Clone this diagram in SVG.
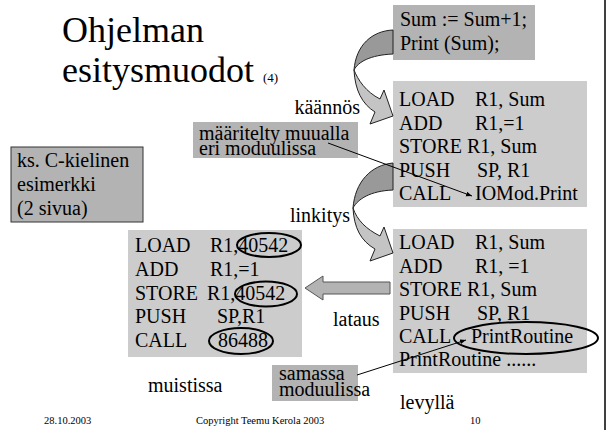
<svg xmlns="http://www.w3.org/2000/svg" width="607" height="430" viewBox="0 0 607 430" font-family="'Liberation Serif', 'DejaVu Serif', serif">
<style>
text{font-family:'Liberation Serif','DejaVu Serif',serif;fill:#000}
.c{font-size:20px}
.t{font-size:36px}
.f{font-size:10.5px}
.lg{fill:#cccccc}
.dg{fill:#b3b3b3}
.el{fill:none;stroke:#000;stroke-width:2}
.ln{stroke:#000;stroke-width:1;fill:none}
.bk{fill:#999999;stroke:#222;stroke-width:1}
.fr{fill:#c4c4c4;stroke:#222;stroke-width:1}
</style>
<defs>
<marker id="ah" viewBox="0 0 10 10" refX="10" refY="5" markerWidth="6" markerHeight="6" orient="auto"><path d="M0,1 L10,5 L0,9 Z" fill="#000"/></marker>
</defs>
<rect width="607" height="430" fill="#fff"/>
<line x1="605" y1="0" x2="605" y2="430" stroke="#000" stroke-width="1.5"/>
<g id="title">
<text class="t" x="62" y="42">Ohjelman</text>
<text class="t" x="62" y="82">esitysmuodot <tspan font-size="13">(4)</tspan></text>
</g>
<g id="source">
<rect class="dg" x="393" y="5" width="142" height="55"/>
<text class="c" x="400" y="26">Sum := Sum+1;</text>
<text class="c" x="400" y="50">Print (Sum);</text>
</g>
<g id="compiled">
<rect class="lg" x="393" y="81" width="194" height="126"/>
<text class="c" x="399" y="106">LOAD</text><text class="c" x="475" y="106">R1, Sum</text>
<text class="c" x="399" y="129.5">ADD</text><text class="c" x="475" y="129.5">R1,=1</text>
<text class="c" x="399" y="153">STORE</text><text class="c" x="467" y="153">R1, Sum</text>
<text class="c" x="399" y="176.5">PUSH</text><text class="c" x="477" y="176.5">SP, R1</text>
<text class="c" x="399" y="200">CALL</text><text class="c" x="475" y="200">IOMod.Print</text>
</g>
<g id="kaannos"><text class="c" x="360" y="114" text-anchor="end">käännös</text></g>
<g id="maaritelty">
<rect class="dg" x="193" y="122" width="165" height="36"/>
<text class="c" x="199" y="140">määritelty muualla</text>
<text class="c" x="199" y="155">eri moduulissa</text>
</g>
<g id="ks">
<rect class="dg" x="11" y="147" width="132" height="75" stroke="#333" stroke-width="1"/>
<text class="c" x="17" y="167">ks. C-kielinen</text>
<text class="c" x="17" y="191">esimerkki</text>
<text class="c" x="17" y="215">(2 sivua)</text>
</g>
<g id="linkitys"><text class="c" x="350" y="222" text-anchor="end">linkitys</text></g>
<g id="memory">
<rect class="lg" x="128" y="230" width="174" height="127"/>
<text class="c" x="135" y="252">LOAD</text><text class="c" x="210" y="252">R1,40542</text>
<text class="c" x="135" y="276">ADD</text><text class="c" x="210" y="276">R1,=1</text>
<text class="c" x="135" y="300">STORE</text><text class="c" x="207" y="300">R1,40542</text>
<text class="c" x="135" y="323">PUSH</text><text class="c" x="217" y="323">SP,R1</text>
<text class="c" x="135" y="347">CALL</text><text class="c" x="218" y="347">86488</text>
<ellipse class="el" cx="269" cy="245" rx="32" ry="12"/>
<ellipse class="el" cx="266" cy="294" rx="31" ry="12.5"/>
<ellipse class="el" cx="241" cy="341" rx="32" ry="13"/>
</g>
<g id="disk">
<rect class="lg" x="393" y="229" width="194" height="144"/>
<text class="c" x="399" y="249">LOAD</text><text class="c" x="475" y="249">R1, Sum</text>
<text class="c" x="399" y="272.5">ADD</text><text class="c" x="475" y="272.5">R1, =1</text>
<text class="c" x="399" y="296">STORE</text><text class="c" x="467" y="296">R1, Sum</text>
<text class="c" x="399" y="319.5">PUSH</text><text class="c" x="477" y="319.5">SP, R1</text>
<text class="c" x="399" y="343">CALL</text><text class="c" x="471" y="343">PrintRoutine</text>
<text class="c" x="399" y="366">PrintRoutine ......</text>
<ellipse class="el" cx="526" cy="338" rx="72" ry="16"/>
</g>
<g id="lataus"><text class="c" x="333" y="326">lataus</text></g>
<g id="muistissa"><text class="c" x="148" y="392">muistissa</text></g>
<g id="samassa">
<rect class="dg" x="272" y="365" width="86" height="36"/>
<text class="c" x="279" y="380">samassa</text>
<text class="c" x="279" y="396">moduulissa</text>
</g>
<g id="levylla"><text class="c" x="400" y="409">levyllä</text></g>
<g id="footer">
<text class="f" x="44" y="424">28.10.2003</text>
<text class="f" x="196" y="424">Copyright Teemu Kerola 2003</text>
<text class="f" x="470" y="424">10</text>
</g>
<g id="connectors">
<path class="bk" d="M393,30 C372,31 356,45 354,70 C358,62 370,55 393,54 Z"/>
<path class="fr" d="M354,70 C358,80 366,92 380,99 L384,90 L393,116 L370,124 L375,112 C362,104 355,90 354,70 Z"/>
<path class="bk" d="M393,163 C371,165 355,182 353,208 C358,199 370,191 393,190 Z"/>
<path class="fr" d="M353,208 C357,220 366,229 380,236 L384,227 L393,253 L370,261 L375,249 C361,241 354,228 353,208 Z"/>
<path d="M305,288 L323,276 L323,282 L390,282 L390,294 L323,294 L323,300 Z" fill="#b3b3b3" stroke="#555" stroke-width="1"/>
<line class="ln" x1="328" y1="143" x2="472" y2="196" marker-end="url(#ah)"/>
<line class="ln" x1="357" y1="375" x2="466" y2="340" marker-end="url(#ah)"/>
</g>
</svg>
